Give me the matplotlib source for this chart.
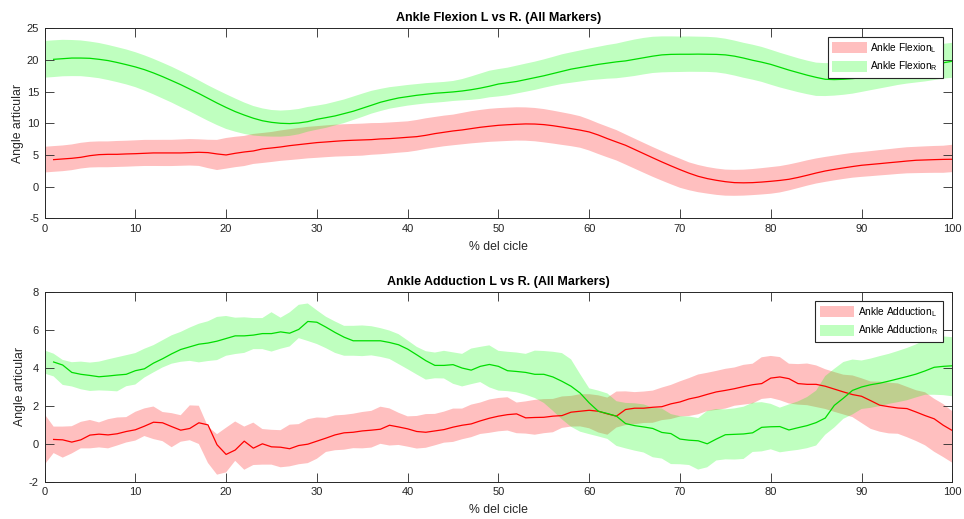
import numpy as np
import matplotlib
matplotlib.use("Agg")
import matplotlib.pyplot as plt

plt.rcParams['font.family'] = ['Liberation Sans', 'DejaVu Sans']
plt.rcParams['mathtext.fontset'] = 'custom'
plt.rcParams['mathtext.rm'] = 'Liberation Sans'
plt.rcParams['axes.unicode_minus'] = False

# Samples at 0..100 % of the gait cycle (101 samples per curve)
flex_L_mean = [4.26, 4.37, 4.47, 4.63, 4.89, 5.05, 5.10, 5.10, 5.16, 5.20, 5.26, 5.32, 5.32, 5.32, 5.32, 5.37, 5.42, 5.37, 5.16, 5.00,
               5.26, 5.47, 5.63, 5.95, 6.10, 6.26, 6.47, 6.63, 6.79, 6.95, 7.05, 7.16, 7.26, 7.32, 7.37, 7.42, 7.53, 7.58, 7.68, 7.79,
               7.89, 8.10, 8.37, 8.58, 8.79, 8.95, 9.16, 9.37, 9.53, 9.68, 9.77, 9.84, 9.90, 9.88, 9.79, 9.62, 9.40, 9.16, 8.92, 8.63,
               8.15, 7.58, 7.05, 6.53, 5.87, 5.21, 4.55, 3.90, 3.28, 2.68, 2.12, 1.63, 1.27, 1.00, 0.78, 0.63, 0.60, 0.63, 0.72, 0.84,
               0.98, 1.16, 1.45, 1.79, 2.15, 2.47, 2.72, 2.95, 3.17, 3.37, 3.50, 3.63, 3.77, 3.90, 4.04, 4.16, 4.21, 4.26, 4.30, 4.32,
               4.45]
flex_L_sd = [2.03, 2.03, 2.03, 2.03, 2.03, 2.03, 2.04, 2.04, 2.05, 2.05, 2.05, 2.06, 2.06, 2.07, 2.07, 2.08, 2.09, 2.10, 2.24, 2.38,
             2.42, 2.40, 2.38, 2.37, 2.37, 2.37, 2.40, 2.44, 2.47, 2.49, 2.50, 2.51, 2.52, 2.53, 2.53, 2.53, 2.50, 2.47, 2.45, 2.43,
             2.42, 2.42, 2.42, 2.42, 2.42, 2.42, 2.48, 2.54, 2.58, 2.61, 2.63, 2.63, 2.63, 2.63, 2.63, 2.63, 2.60, 2.57, 2.53, 2.49,
             2.45, 2.43, 2.42, 2.40, 2.38, 2.37, 2.36, 2.35, 2.33, 2.31, 2.30, 2.20, 2.15, 2.10, 2.08, 2.06, 2.05, 2.05, 2.06, 2.08,
             2.10, 2.08, 2.05, 2.02, 2.00, 1.98, 1.97, 1.96, 1.96, 1.96, 1.96, 1.98, 2.00, 2.02, 2.04, 2.06, 2.08, 2.10, 2.12, 2.14,
             2.16]
flex_R_mean = [20.10, 20.20, 20.30, 20.30, 20.26, 20.10, 19.90, 19.60, 19.26, 18.90, 18.47, 17.95, 17.37, 16.74, 16.10, 15.40, 14.70, 13.95, 13.20, 12.50,
               11.85, 11.30, 10.80, 10.40, 10.15, 10.00, 9.95, 10.05, 10.26, 10.63, 10.89, 11.16, 11.53, 11.90, 12.37, 12.84, 13.32, 13.68, 14.00, 14.21,
               14.42, 14.58, 14.74, 14.84, 14.95, 15.10, 15.30, 15.55, 15.85, 16.20, 16.40, 16.60, 16.90, 17.20, 17.50, 17.85, 18.20, 18.55, 18.80, 19.05,
               19.30, 19.50, 19.70, 19.85, 20.10, 20.35, 20.60, 20.80, 20.88, 20.90, 20.90, 20.92, 20.90, 20.88, 20.80, 20.60, 20.30, 19.95, 19.65, 19.30,
               18.85, 18.40, 18.00, 17.60, 17.25, 16.95, 16.90, 16.95, 17.05, 17.20, 17.45, 17.75, 18.05, 18.35, 18.65, 18.90, 19.10, 19.30, 19.55, 19.80,
               19.95]
flex_R_sd = [2.90, 2.90, 2.88, 2.85, 2.82, 2.80, 2.78, 2.77, 2.76, 2.76, 2.76, 2.78, 2.80, 2.82, 2.83, 2.84, 2.83, 2.82, 2.80, 2.78,
             2.74, 2.62, 2.48, 2.33, 2.20, 2.10, 2.06, 2.04, 2.00, 1.95, 1.90, 1.88, 1.87, 1.86, 1.85, 1.84, 1.80, 1.75, 1.70, 1.66,
             1.63, 1.61, 1.60, 1.59, 1.58, 1.58, 1.68, 1.85, 2.00, 2.10, 2.16, 2.18, 2.20, 2.22, 2.23, 2.24, 2.28, 2.34, 2.40, 2.45,
             2.50, 2.58, 2.66, 2.74, 2.82, 2.88, 2.88, 2.86, 2.84, 2.82, 2.80, 2.79, 2.78, 2.77, 2.76, 2.76, 2.76, 2.76, 2.76, 2.76,
             2.76, 2.74, 2.71, 2.68, 2.65, 2.63, 2.60, 2.58, 2.55, 2.52, 2.50, 2.52, 2.55, 2.58, 2.60, 2.63, 2.66, 2.69, 2.72, 2.74,
             2.76]

add_L_mean = [0.23, 0.21, 0.09, 0.21, 0.46, 0.51, 0.47, 0.53, 0.65, 0.74, 0.93, 1.14, 1.11, 0.91, 0.72, 0.81, 1.11, 1.00, -0.05, -0.56,
              -0.33, 0.14, -0.23, 0.00, -0.16, -0.18, -0.26, -0.09, -0.02, 0.14, 0.30, 0.47, 0.58, 0.61, 0.68, 0.72, 0.77, 0.98, 0.89, 0.79,
              0.65, 0.61, 0.68, 0.75, 0.88, 0.98, 1.05, 1.21, 1.35, 1.46, 1.54, 1.58, 1.37, 1.39, 1.40, 1.46, 1.49, 1.67, 1.72, 1.77,
              1.72, 1.58, 1.46, 1.81, 1.88, 1.88, 1.93, 1.96, 2.11, 2.21, 2.37, 2.47, 2.61, 2.74, 2.82, 2.91, 3.02, 3.12, 3.18, 3.47,
              3.53, 3.44, 3.18, 3.14, 3.14, 3.04, 2.89, 2.74, 2.60, 2.51, 2.28, 2.04, 1.96, 1.89, 1.86, 1.68, 1.49, 1.32, 0.98, 0.70,
              0.36]
add_L_sd = [1.34, 0.70, 0.82, 0.72, 0.70, 0.75, 0.66, 0.77, 0.74, 0.67, 0.76, 0.73, 0.86, 0.77, 0.90, 0.70, 0.92, 1.01, 0.96, 1.07,
            1.18, 1.04, 1.14, 1.12, 0.94, 0.92, 0.98, 1.10, 1.06, 1.16, 1.09, 0.90, 0.92, 0.92, 0.91, 0.96, 0.97, 0.98, 0.98, 0.85,
            0.80, 0.86, 0.89, 0.83, 0.82, 0.88, 0.81, 0.86, 0.83, 0.88, 0.88, 0.88, 0.81, 0.85, 0.92, 0.90, 0.88, 0.83, 0.81, 0.85,
            0.90, 0.98, 0.98, 0.95, 0.89, 0.85, 0.83, 0.85, 0.86, 0.90, 0.93, 1.00, 1.05, 1.01, 1.03, 1.05, 1.01, 1.05, 1.05, 1.10,
            1.11, 1.14, 1.05, 1.07, 1.10, 1.10, 1.05, 1.05, 1.05, 1.10, 1.18, 1.25, 1.32, 1.34, 1.33, 1.33, 1.34, 1.40, 1.40, 1.40,
            1.36]
add_R_mean = [4.32, 4.16, 3.77, 3.67, 3.61, 3.54, 3.58, 3.63, 3.67, 3.86, 3.96, 4.26, 4.49, 4.75, 4.98, 5.12, 5.26, 5.32, 5.42, 5.56,
              5.70, 5.70, 5.74, 5.82, 5.82, 5.91, 5.84, 6.04, 6.46, 6.42, 6.16, 5.88, 5.63, 5.44, 5.44, 5.44, 5.44, 5.35, 5.23, 5.00,
              4.70, 4.39, 4.14, 4.14, 4.18, 4.00, 3.89, 4.09, 4.19, 4.09, 3.86, 3.82, 3.77, 3.67, 3.67, 3.53, 3.30, 3.04, 2.68, 2.16,
              1.72, 1.60, 1.46, 1.07, 0.96, 0.89, 0.81, 0.60, 0.54, 0.25, 0.19, 0.16, 0.00, 0.25, 0.48, 0.50, 0.52, 0.58, 0.87, 0.90,
              0.91, 0.73, 0.85, 0.96, 1.12, 1.36, 2.03, 2.41, 2.82, 3.00, 3.12, 3.20, 3.31, 3.43, 3.55, 3.68, 3.85, 4.04, 4.09, 4.12,
              4.07]
add_R_sd = [0.61, 0.60, 0.66, 0.64, 0.73, 0.75, 0.76, 0.83, 0.90, 0.82, 0.83, 0.76, 0.72, 0.72, 0.75, 0.79, 0.88, 1.02, 1.05, 1.14,
            1.05, 0.96, 0.94, 0.82, 0.82, 1.04, 0.82, 0.90, 0.88, 0.99, 0.89, 0.83, 0.83, 0.79, 0.79, 0.81, 0.77, 0.76, 0.75, 0.79,
            0.76, 0.73, 0.75, 0.68, 0.73, 0.83, 0.86, 0.94, 0.93, 1.11, 1.05, 1.04, 1.05, 1.08, 1.25, 1.37, 1.56, 1.75, 1.78, 1.52,
            1.21, 1.21, 1.20, 1.18, 1.20, 1.25, 1.27, 1.31, 1.32, 1.32, 1.27, 1.28, 1.36, 1.49, 1.36, 1.32, 1.35, 1.38, 1.30, 1.30,
            1.20, 1.18, 1.23, 1.28, 1.35, 1.45, 1.55, 1.55, 1.50, 1.45, 1.28, 1.30, 1.32, 1.32, 1.35, 1.38, 1.40, 1.45, 1.50, 1.55,
            1.56]

x_ticks = list(range(0, 101, 10))
flex_yticks = [-5, 0, 5, 10, 15, 20, 25]
add_yticks = [-2, 0, 2, 4, 6, 8]

AX_COLOR = '#262626'
RED_LINE = '#ff0000'
GREEN_LINE = '#00dd00'


def draw_panel(ax, mL, sL, mR, sR, name, title, ylim, yticks):
    mL, sL, mR, sR = map(np.asarray, (mL, sL, mR, sR))
    xb = np.arange(len(mL))          # shaded band: 0..100
    xl = np.arange(1, len(mL) + 1)   # mean curve: sample index 1..101
    ax.fill_between(xb, mL - sL, mL + sL, facecolor='red', alpha=0.25,
                    linewidth=0, label=name + r'$_{\mathregular{L}}$')
    ax.fill_between(xb, mR - sR, mR + sR, facecolor=(0, 1, 0), alpha=0.25,
                    linewidth=0, label=name + r'$_{\mathregular{R}}$')
    ax.plot(xl, mL, color=RED_LINE, lw=0.9)
    ax.plot(xl, mR, color=GREEN_LINE, lw=0.9)

    ax.set_xlim(0, 100)
    ax.set_ylim(*ylim)
    ax.set_xticks(x_ticks)
    ax.set_yticks(yticks)
    ax.tick_params(direction='in', length=6.5, width=0.6, top=True, right=True,
                   colors=AX_COLOR, labelsize=8, pad=4)
    for sp in ax.spines.values():
        sp.set_color(AX_COLOR)
        sp.set_linewidth(0.7)
    ax.set_xlabel('% del cicle', fontsize=8.8, color=AX_COLOR, labelpad=5)
    ax.set_ylabel('Angle articular', fontsize=8.8, color=AX_COLOR, labelpad=2)
    ax.set_title(title, fontsize=9, fontweight='bold', pad=5)
    leg = ax.legend(loc='upper right', bbox_to_anchor=(0.9894, 0.956),
                    borderaxespad=0, fontsize=7.3, frameon=True, fancybox=False,
                    framealpha=1, edgecolor='#262626', handlelength=3.4,
                    handleheight=1.3, handletextpad=0.35, borderpad=0.45,
                    labelspacing=0.45)
    leg.get_frame().set_linewidth(0.8)


fig = plt.figure(figsize=(9.64, 5.19), dpi=100)
ax1 = fig.add_axes([0.0462, 0.5794, 0.9417, 0.3661])
ax2 = fig.add_axes([0.0462, 0.0719, 0.9417, 0.3649])

draw_panel(ax1, flex_L_mean, flex_L_sd, flex_R_mean, flex_R_sd, 'Ankle Flexion',
           'Ankle Flexion L vs R. (All Markers)', (-5, 25), flex_yticks)
draw_panel(ax2, add_L_mean, add_L_sd, add_R_mean, add_R_sd, 'Ankle Adduction',
           'Ankle Adduction L vs R. (All Markers)', (-2, 8), add_yticks)

fig.savefig('out.png', dpi=100, facecolor='white')
